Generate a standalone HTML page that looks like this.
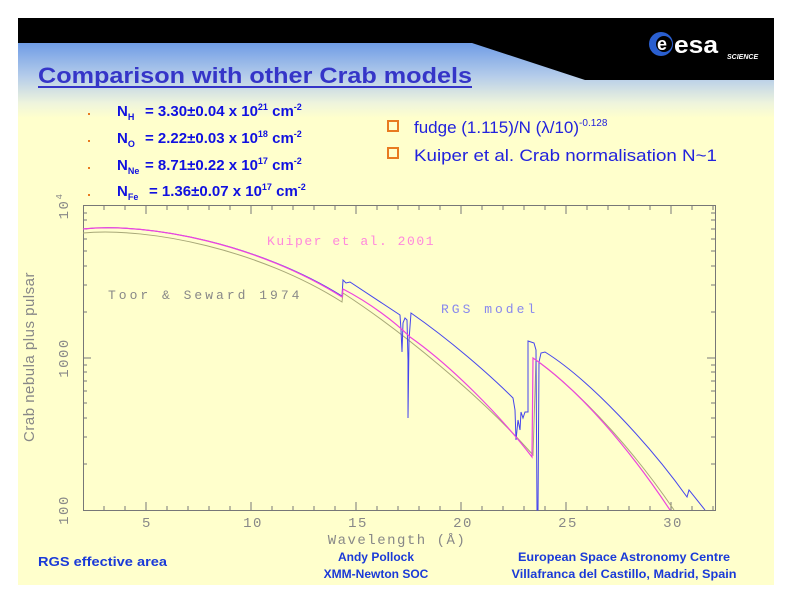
<!DOCTYPE html>
<html><head><meta charset="utf-8"><style>
html,body{margin:0;padding:0;background:#fff;width:792px;height:612px;overflow:hidden}
svg{display:block}
</style></head><body>
<svg width="792" height="612" viewBox="0 0 792 612" xmlns="http://www.w3.org/2000/svg" font-family="Liberation Sans, sans-serif">
<defs>
<linearGradient id="g" x1="0" y1="0" x2="0" y2="1">
<stop offset="0" stop-color="#6f9ce6"/>
<stop offset="0.45" stop-color="#b6cdea"/>
<stop offset="0.8" stop-color="#eef4dd"/>
<stop offset="1" stop-color="#ffffcc"/>
</linearGradient>
</defs>
<rect x="18" y="18" width="756" height="567" fill="#ffffcc"/>
<rect x="18" y="43" width="756" height="75" fill="url(#g)"/>
<polygon points="18,18 774,18 774,80 585,80 472,43 18,43" fill="#000"/>
<circle cx="661" cy="44" r="12" fill="#2a5fd0"/>
<circle cx="664" cy="44" r="8" fill="#000"/>
<text x="657" y="50" font-size="18" font-weight="bold" fill="#fff">e</text>
<text x="674" y="53" font-size="24" font-weight="bold" fill="#fff" textLength="44" lengthAdjust="spacingAndGlyphs">esa</text>
<text x="727" y="59" font-size="7" font-style="italic" font-weight="bold" fill="#fff">SCIENCE</text>
<text x="38" y="83" font-size="22" font-weight="bold" fill="#3535c8" textLength="434" lengthAdjust="spacingAndGlyphs">Comparison with other Crab models</text>
<rect x="38" y="86" width="434" height="2" fill="#3535c8"/>
<g fill="#e87a20"><rect x="88" y="113" width="2" height="2"/><rect x="88" y="140" width="2" height="2"/><rect x="88" y="167" width="2" height="2"/><rect x="88" y="194" width="2" height="2"/></g>
<g font-size="15" font-weight="bold" fill="#1010e0">
<text x="117" y="116">N<tspan font-size="9" dy="4">H</tspan><tspan dy="-4" x="145">= 3.30±0.04 x 10</tspan><tspan font-size="9" dy="-6">21</tspan><tspan dy="6"> cm</tspan><tspan font-size="9" dy="-6">-2</tspan></text>
<text x="117" y="143">N<tspan font-size="9" dy="4">O</tspan><tspan dy="-4" x="145">= 2.22±0.03 x 10</tspan><tspan font-size="9" dy="-6">18</tspan><tspan dy="6"> cm</tspan><tspan font-size="9" dy="-6">-2</tspan></text>
<text x="117" y="170">N<tspan font-size="9" dy="4">Ne</tspan><tspan dy="-4" x="145">= 8.71±0.22 x 10</tspan><tspan font-size="9" dy="-6">17</tspan><tspan dy="6"> cm</tspan><tspan font-size="9" dy="-6">-2</tspan></text>
<text x="117" y="196">N<tspan font-size="9" dy="4">Fe</tspan><tspan dy="-4" x="149">= 1.36±0.07 x 10</tspan><tspan font-size="9" dy="-6">17</tspan><tspan dy="6"> cm</tspan><tspan font-size="9" dy="-6">-2</tspan></text>
</g>
<g fill="none" stroke="#e87a20" stroke-width="2"><rect x="388" y="121" width="10" height="10"/><rect x="388" y="148" width="10" height="10"/></g>
<g font-size="17" fill="#2222dd">
<text x="414" y="133">fudge (1.115)/N (λ/10)<tspan font-size="10" dy="-7">-0.128</tspan></text>
<text x="414" y="161" textLength="303" lengthAdjust="spacingAndGlyphs">Kuiper et al. Crab normalisation N~1</text>
</g>
<g stroke="#777" stroke-width="1" fill="none">
<rect x="83.5" y="205.5" width="632" height="305"/>
<path d="M104,510v-4M125,510v-4M146,510v-8M167,510v-4M188,510v-4M209,510v-4M230,510v-4M251,510v-8M272,510v-4M293,510v-4M314,510v-4M335,510v-4M356,510v-8M377,510v-4M398,510v-4M419,510v-4M440,510v-4M461,510v-8M482,510v-4M503,510v-4M524,510v-4M545,510v-4M566,510v-8M587,510v-4M608,510v-4M629,510v-4M650,510v-4M671,510v-8M692,510v-4M713,510v-4"/>
<path d="M104,206v4M125,206v4M146,206v8M167,206v4M188,206v4M209,206v4M230,206v4M251,206v8M272,206v4M293,206v4M314,206v4M335,206v4M356,206v8M377,206v4M398,206v4M419,206v4M440,206v4M461,206v8M482,206v4M503,206v4M524,206v4M545,206v4M566,206v8M587,206v4M608,206v4M629,206v4M650,206v4M671,206v8M692,206v4M713,206v4"/>
<path d="M83,464h4M83,437h4M83,418h4M83,403h4M83,391h4M83,381h4M83,372h4M83,365h4M83,358h8M83,312h4M83,285h4M83,266h4M83,251h4M83,239h4M83,229h4M83,220h4M83,213h4"/>
<path d="M715,464h-4M715,437h-4M715,418h-4M715,403h-4M715,391h-4M715,381h-4M715,372h-4M715,365h-4M715,358h-8M715,312h-4M715,285h-4M715,266h-4M715,251h-4M715,239h-4M715,229h-4M715,220h-4M715,213h-4"/>
</g>
<g font-size="14" fill="#888" font-family="Liberation Mono, monospace" text-anchor="middle" letter-spacing="1.5">
<text x="147" y="527">5</text><text x="253" y="527">10</text><text x="358" y="527">15</text><text x="463" y="527">20</text><text x="568" y="527">25</text><text x="673" y="527">30</text>
<text x="397" y="544">Wavelength (Å)</text>
<text transform="translate(68,510) rotate(-90)">100</text>
<text transform="translate(68,358) rotate(-90)">1000</text>
<text transform="translate(68,206) rotate(-90)">10<tspan font-size="9" dy="-6">4</tspan></text>
<text transform="translate(34,357) rotate(-90)" letter-spacing="0.5" font-family="Liberation Sans Narrow, Liberation Sans, sans-serif" font-size="15">Crab nebula plus pulsar</text>
</g>
<g font-size="13" font-family="Liberation Mono, monospace">
<text x="267" y="245" fill="#ff88dd" letter-spacing="1.5" textLength="168">Kuiper et al. 2001</text>
<text x="108" y="299" fill="#888" letter-spacing="3">Toor &amp; Seward 1974</text>
<text x="441" y="313" fill="#8888ee" letter-spacing="3">RGS model</text>
</g>
<path fill="none" stroke="#a8a878" stroke-width="1" d="M83,233 C150,227 260,250 342,302 L343,293 C400,330 480,395 533,455 L536,360 C590,400 640,460 674,510"/>
<path fill="none" stroke="#4444ee" stroke-width="1" d="M83,229 C150,222 260,245 342,296 L343,280 L346,283 L350,282 L400,315 L401,330 L402,352 L403,323 L405,318 L407,320 L408,360 L408,418 L409,340 L411,313 C450,340 490,375 513,398 L515,410 L516,440 L518,420 L520,430 L521,412 L523,418 L525,412 L528,412 L528,341 L534,343 L536,350 L537,510 L538,510 L539,362 L541,353 L545,352 C590,380 650,445 687,497 L689,490 L705,510"/>
<path fill="none" stroke="#ee44dd" stroke-width="1.2" d="M83,229 C150,222 260,245 342,297 L343,289 C370,303 395,322 410,337 C450,365 500,415 532,457 L533,358 C580,390 630,450 670,510"/>
<g font-weight="bold" fill="#1a3ad8" font-size="13">
<text x="38" y="566" textLength="129" lengthAdjust="spacingAndGlyphs">RGS effective area</text>
<text x="376" y="561" text-anchor="middle" font-size="12">Andy Pollock</text>
<text x="376" y="578" text-anchor="middle" font-size="12">XMM-Newton SOC</text>
<text x="624" y="561" text-anchor="middle" font-size="12" textLength="212" lengthAdjust="spacingAndGlyphs">European Space Astronomy Centre</text>
<text x="624" y="578" text-anchor="middle" font-size="12" textLength="225" lengthAdjust="spacingAndGlyphs">Villafranca del Castillo, Madrid, Spain</text>
</g>
</svg>
</body></html>
